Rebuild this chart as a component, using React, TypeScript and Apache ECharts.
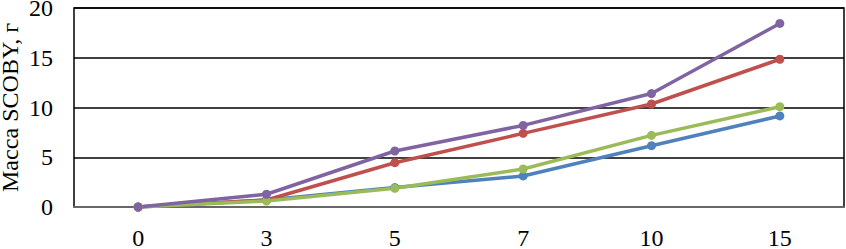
import React, { useEffect, useRef } from "react";
import * as echarts from "echarts";

const categories = ["0", "3", "5", "7", "10", "15"];
const seriesBlue = [0, 0.7, 1.95, 3.12, 6.16, 9.15];
const seriesRed = [0, 0.7, 4.45, 7.4, 10.35, 14.85];
const seriesGreen = [0, 0.6, 1.88, 3.82, 7.2, 10.08];
const seriesPurple = [0, 1.28, 5.63, 8.2, 11.4, 18.45];
const yTitle = "Масса SCOBY, г";

const FONT = "'Liberation Serif', 'Times New Roman', serif";

export default function App() {
  const ref = useRef<HTMLDivElement>(null);
  useEffect(() => {
    if (!ref.current) return;
    const chart = echarts.init(ref.current, undefined, { renderer: "svg" });
    const mk = (name: string, data: number[], color: string) => ({
      name,
      type: "line",
      data,
      symbol: "circle",
      symbolSize: 9,
      lineStyle: { color, width: 3.5 },
      itemStyle: { color },
    });
    chart.setOption({
      animation: false,
      backgroundColor: "#ffffff",
      grid: {
        left: 74,
        right: 2,
        top: 8,
        bottom: 42,
        show: true,
        containLabel: false,
        outerBoundsMode: "none",
        borderColor: "#000000",
        borderWidth: 1.5,
        backgroundColor: "transparent",
      },
      xAxis: {
        type: "category",
        data: categories,
        boundaryGap: true,
        axisLine: { show: true, lineStyle: { color: "#868686", width: 1.5 } },
        axisTick: { show: false },
        axisLabel: { color: "#000", fontFamily: FONT, fontSize: 24, margin: 19 },
        splitLine: { show: false },
      },
      yAxis: {
        type: "value",
        min: 0,
        max: 20,
        interval: 5,
        name: yTitle,
        nameLocation: "middle",
        nameGap: 52,
        nameMoveOverlap: false,
        nameRotate: 90,
        nameTextStyle: { color: "#000", fontFamily: FONT, fontSize: 24 },
        axisLine: { show: false },
        axisTick: { show: false },
        axisLabel: { color: "#000", fontFamily: FONT, fontSize: 24, margin: 21 },
        splitLine: { show: true, lineStyle: { color: "#000", width: 1.5 } },
      },
      series: [
        mk("Blue", seriesBlue, "#4F81BD"),
        mk("Red", seriesRed, "#C0504D"),
        mk("Green", seriesGreen, "#9BBB59"),
        mk("Purple", seriesPurple, "#8064A2"),
      ],
    });
    return () => chart.dispose();
  }, []);
  return (
    <div
      ref={ref}
      style={{ position: "fixed", left: 0, top: 0, width: 846, height: 249, background: "#fff" }}
    />
  );
}
